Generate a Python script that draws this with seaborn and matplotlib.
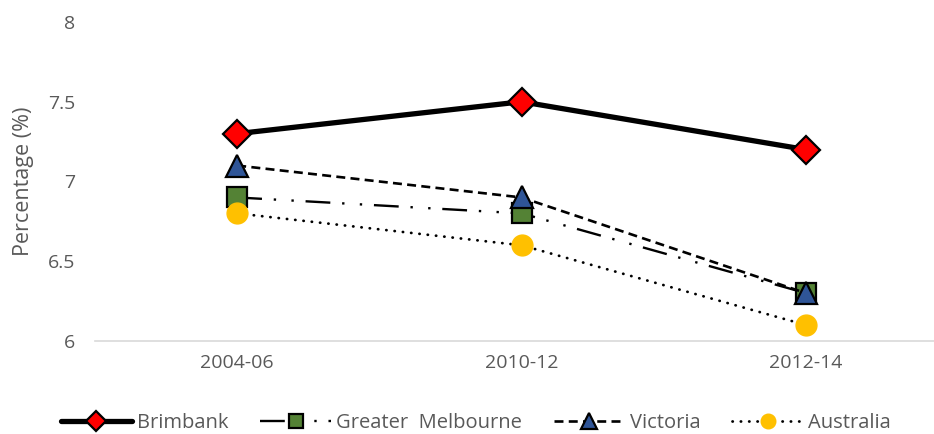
import pandas as pd
import seaborn as sns
import matplotlib.pyplot as plt

sns.set_style("white")
plt.rcParams['font.family'] = ['Open Sans', 'DejaVu Sans']

periods = ['2004-06', '2010-12', '2012-14']
brimbank = [7.3, 7.5, 7.2]
greater_melbourne = [6.9, 6.8, 6.3]
victoria = [7.1, 6.9, 6.3]
australia = [6.8, 6.6, 6.1]

series = {
    'Brimbank': brimbank,
    'Greater  Melbourne': greater_melbourne,
    'Victoria': victoria,
    'Australia': australia,
}

# line / marker styling for each area
styles = {
    'Brimbank': dict(lw=3.8, ls='-', marker='D', ms=14, mfc='#ff0000', mec='black', mew=1.6),
    'Greater  Melbourne': dict(lw=1.7, ls=(0, (10.5, 5, 1, 6.5, 1, 5)), marker='s', ms=14,
                               mfc='#548235', mec='black', mew=1.6),
    'Victoria': dict(lw=1.9, ls=(0, (3.4, 2)), marker='^', ms=16, mfc='#2f5597', mec='black', mew=1.6),
    'Australia': dict(lw=2.0, ls=(0, (0.1, 2.9)), dash_capstyle='round', marker='o', ms=15,
                      mfc='#ffc000', mec='#ffc000', mew=1),
}

df = pd.DataFrame(series)
df['Period'] = periods

fig = plt.figure(figsize=(9.34, 4.34), dpi=100)
ax = fig.add_axes([95 / 934, 93 / 434, 839 / 934, 319 / 434])

for name in series:
    sns.lineplot(x=range(len(periods)), y=df[name], color='black', label=name,
                 ax=ax, **styles[name])

ax.set_xlim(-0.5, 2.45)
ax.set_ylim(6, 8)
ax.set_xticks(range(len(periods)))
ax.set_xticklabels(periods)
ax.set_yticks([6, 6.5, 7, 7.5, 8])
ax.set_yticklabels(['6', '6.5', '7', '7.5', '8'])
ax.tick_params(axis='both', length=0, labelsize=14, colors='#595959')
ax.tick_params(axis='y', pad=14)
ax.tick_params(axis='x', pad=9)
ax.set_xlabel('')
ax.set_ylabel('Percentage (%)', fontsize=15.5, color='#595959', labelpad=10)

for s in ['top', 'right', 'left']:
    ax.spines[s].set_visible(False)
ax.spines['bottom'].set_color('#d9d9d9')
ax.spines['bottom'].set_linewidth(1.2)

leg = ax.legend(loc='center', bbox_to_anchor=(0.454, -0.258), ncol=4, frameon=False,
                fontsize=14.5, handlelength=3.5, columnspacing=1.6, handletextpad=0.25,
                markerscale=0.7)
for t in leg.get_texts():
    t.set_color('#595959')

fig.savefig('out.png', dpi=100)
